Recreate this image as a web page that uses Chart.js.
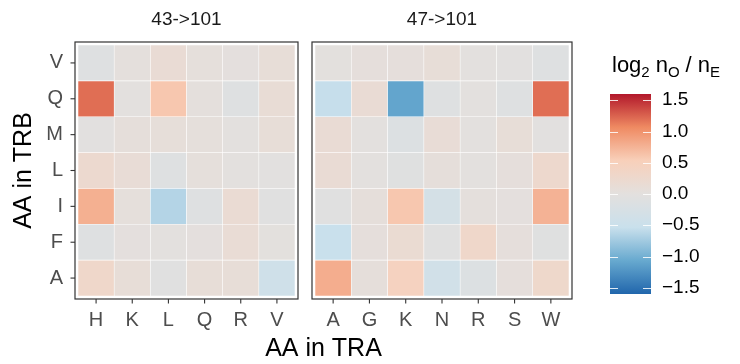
<!DOCTYPE html>
<html><head><meta charset="utf-8">
<script src="https://cdn.jsdelivr.net/npm/chart.js@4/dist/chart.umd.min.js"></script>
<style>
html,body{margin:0;padding:0;background:#fff;}
#wrap{position:relative;width:740px;height:364px;overflow:hidden;background:#fff;}
#wrap canvas{position:absolute;left:0;top:0;}
</style></head><body>
<div id="wrap">
<canvas id="c43" width="740" height="364"></canvas>
<canvas id="c47" width="740" height="364"></canvas>
<canvas id="cbar" width="740" height="364"></canvas>
</div>
<script>
// ---- data ----
const rowLabels = ['A','F','I','L','M','Q','V'];          // AA in TRB, bottom -> top
const cols43 = ['H','K','L','Q','R','V'];                  // AA in TRA, panel 43->101
const cols47 = ['A','G','K','N','R','S','W'];              // AA in TRA, panel 47->101
// log2 nO/nE, one row per rowLabels entry (A..V), columns as cols43
const vals43_A = [ 0.30, 0.10, -0.06, 0.10, 0.10, -0.40];
const vals43_F = [-0.10, 0.02,  0.00, 0.02, 0.14,  0.01];
const vals43_I = [ 0.78, 0.04, -0.65,-0.10, 0.17, -0.06];
const vals43_L = [ 0.22, 0.12, -0.10, 0.04, 0.00, -0.02];
const vals43_M = [-0.02, 0.06,  0.08, 0.04, 0.00,  0.10];
const vals43_Q = [ 1.20, 0.00,  0.60, 0.03,-0.10,  0.13];
const vals43_V = [-0.10, 0.03,  0.15, 0.04, 0.02,  0.10];
// columns as cols47
const vals47_A = [ 0.80, 0.06,  0.45,-0.37,-0.15, 0.05,  0.28];
const vals47_F = [-0.53, 0.05,  0.18,-0.07, 0.30, 0.05, -0.08];
const vals47_I = [-0.07, 0.06,  0.60,-0.30, 0.03, 0.02,  0.76];
const vals47_L = [ 0.15, 0.00, -0.08, 0.06, 0.00, 0.05,  0.25];
const vals47_M = [ 0.15, 0.00, -0.15, 0.12, 0.00, 0.10, -0.02];
const vals47_Q = [-0.55, 0.15, -1.10,-0.10, 0.00,-0.10,  1.20];
const vals47_V = [ 0.01, 0.05,  0.05, 0.10, 0.00,-0.02, -0.10];
const vals43 = [vals43_A, vals43_F, vals43_I, vals43_L, vals43_M, vals43_Q, vals43_V];
const vals47 = [vals47_A, vals47_F, vals47_I, vals47_L, vals47_M, vals47_Q, vals47_V];
const panelTitles = ['43->101', '47->101'];
const legendTicks = [-1.5, -1.0, -0.5, 0.0, 0.5, 1.0, 1.5];
const fillLimits = [-1.6, 1.6];

// ---- style ----
const FONT = "'Liberation Sans', Arial, Helvetica, sans-serif";
const stops = [[-1.6,'#2166AC'],[-1.067,'#67A9CF'],[-0.533,'#C9E0EC'],[0,'#E3E0DE'],[0.533,'#F8D0BA'],[1.067,'#EF8A62'],[1.6,'#B2182B']];
function hex(h){return [parseInt(h.slice(1,3),16),parseInt(h.slice(3,5),16),parseInt(h.slice(5,7),16)];}
function colorFor(v){
  v = Math.max(stops[0][0], Math.min(stops[stops.length-1][0], v));
  for (let i=0;i<stops.length-1;i++){
    const [v0,c0]=stops[i],[v1,c1]=stops[i+1];
    if (v<=v1){
      const t=(v-v0)/(v1-v0), a=hex(c0), b=hex(c1);
      return 'rgb('+a.map((x,k)=>Math.round(x+(b[k]-x)*t)).join(',')+')';
    }
  }
  return stops[stops.length-1][1];
}
function fmt(v){ const s=Math.abs(v).toFixed(1); return v<0 ? '\u2212'+s : s; }

const deco = {
  id:'deco',
  afterDatasetsDraw(chart, args, o){
    const a = chart.chartArea, ctx = chart.ctx;
    ctx.save();
    if (o.panel){
      const e = 3;
      ctx.strokeStyle = '#333333'; ctx.lineWidth = 1.2;
      ctx.strokeRect(a.left-e, a.top-e, a.right-a.left+2*e, a.bottom-a.top+2*e);
      ctx.lineWidth = 1.1;
      const xs = chart.scales.x;
      xs.ticks.forEach((t,i)=>{
        const px = xs.getPixelForTick(i);
        ctx.beginPath(); ctx.moveTo(px, a.bottom+e); ctx.lineTo(px, a.bottom+e+4.5); ctx.stroke();
      });
      if (o.yTicks){
        const ys = chart.scales.y;
        ys.ticks.forEach(t=>{
          const py = ys.getPixelForValue(t.value);
          ctx.beginPath(); ctx.moveTo(a.left-e, py); ctx.lineTo(a.left-e-4.5, py); ctx.stroke();
        });
      }
      ctx.fillStyle = '#1A1A1A';
      ctx.font = '19px ' + FONT;
      ctx.textAlign = 'center'; ctx.textBaseline = 'middle';
      ctx.fillText(o.strip, (a.left+a.right)/2, 20);
    }
    if (o.xTitle){
      ctx.fillStyle = '#000';
      ctx.font = '25px ' + FONT;
      ctx.textAlign = 'center'; ctx.textBaseline = 'middle';
      ctx.fillText(o.xTitle, 323.5, 349);
    }
    if (o.legend){
      const ys = chart.scales.y;
      ctx.strokeStyle = 'rgba(255,255,255,0.85)'; ctx.lineWidth = 1;
      ys.ticks.forEach(t=>{
        const py = Math.round(ys.getPixelForValue(t.value))+0.5;
        ctx.beginPath(); ctx.moveTo(a.left, py); ctx.lineTo(a.left+8, py);
        ctx.moveTo(a.right-8, py); ctx.lineTo(a.right, py); ctx.stroke();
      });
      // legend title: log2 nO / nE
      ctx.fillStyle = '#000'; ctx.textAlign = 'left'; ctx.textBaseline = 'alphabetic';
      let x = 612; const base = 72;
      const parts = [['log',22,0,0],['2',15,5,3],['n',22,0,0],['O',15,5,3],['/',22,0,3],['n',22,0,0],['E',15,5,0]];
      parts.forEach(([s,sz,dy,gap])=>{
        ctx.font = sz+'px '+FONT;
        ctx.fillText(s, x, base+dy);
        x += ctx.measureText(s).width + gap + (s==='2'||s==='O'||s==='/' ? 3 : 0);
      });
    }
    ctx.restore();
  }
};
Chart.register(deco);

function makePanel(id, cols, vals, strip, cfg){
  const datasets = rowLabels.map((r, ri) => ({
    label: r,
    data: cols.map(() => [ri - 0.5, ri + 0.5]),
    backgroundColor: c => colorFor(vals[ri][c.dataIndex]),
    borderColor: 'rgba(255,255,255,0.2)', borderWidth: 0.6, borderSkipped: false,
    barPercentage: 1, categoryPercentage: 1, grouped: false
  }));
  return new Chart(document.getElementById(id), {
    type: 'bar',
    data: { labels: cols, datasets },
    options: {
      responsive: false, animation: false, devicePixelRatio: 1,
      layout: { padding: { left: cfg.padL, right: cfg.padR, top: 45, bottom: 0 } },
      plugins: { legend: { display: false }, tooltip: { enabled: false },
        deco: { panel: true, strip, yTicks: cfg.showY, xTitle: cfg.xTitle } },
      scales: {
        x: { type: 'category', offset: true,
             grid: { display: false, drawTicks: false }, border: { display: false },
             ticks: { color: '#4D4D4D', font: { family: FONT, size: 20 }, padding: 12, maxRotation: 0, autoSkip: false },
             afterFit: s => { s.height = 68; } },
        y: { type: 'linear', min: -0.5, max: rowLabels.length - 0.5, display: cfg.showY,
             afterBuildTicks: s => { s.ticks = rowLabels.map((_, i) => ({ value: i })); },
             grid: { display: false, drawTicks: false }, border: { display: false },
             ticks: { callback: v => rowLabels[v], color: '#4D4D4D', font: { family: FONT, size: 20 }, padding: 15 },
             title: { display: cfg.showY, text: 'AA in TRB', color: '#000', font: { family: FONT, size: 25 }, padding: { top: 9, bottom: 0 } },
             afterFit: s => { s.width = cfg.showY ? 78 : 0; } }
      }
    }
  });
}

makePanel('c43', cols43, vals43, panelTitles[0], { padL: 0, padR: 445, showY: true });
makePanel('c47', cols47, vals47, panelTitles[1], { padL: 315, padR: 171, showY: false, xTitle: 'AA in TRA' });

new Chart(document.getElementById('cbar'), {
  type: 'bar',
  data: { labels: [''], datasets: [{
    data: [[fillLimits[0], fillLimits[1]]],
    backgroundColor: c => {
      const ch = c.chart; if (!ch.chartArea) return '#ccc';
      const ys = ch.scales.y;
      const g = ch.ctx.createLinearGradient(0, ys.getPixelForValue(fillLimits[0]), 0, ys.getPixelForValue(fillLimits[1]));
      stops.forEach(([v, col]) => g.addColorStop((v - fillLimits[0]) / (fillLimits[1] - fillLimits[0]), col));
      return g;
    },
    borderWidth: 0, barPercentage: 1, categoryPercentage: 1
  }] },
  options: {
    responsive: false, animation: false, devicePixelRatio: 1,
    layout: { padding: { left: 610, right: 0, top: 94, bottom: 70 } },
    plugins: { legend: { display: false }, tooltip: { enabled: false }, deco: { legend: true } },
    scales: {
      x: { display: false, offset: true },
      y: { position: 'right', min: fillLimits[0], max: fillLimits[1],
           afterBuildTicks: s => { s.ticks = legendTicks.map(v => ({ value: v })); },
           grid: { display: false, drawTicks: false }, border: { display: false },
           ticks: { callback: v => fmt(v), color: '#000', font: { family: FONT, size: 19 }, padding: 11 },
           afterFit: s => { s.width = 89; } }
    }
  }
});
</script>
</body></html>
